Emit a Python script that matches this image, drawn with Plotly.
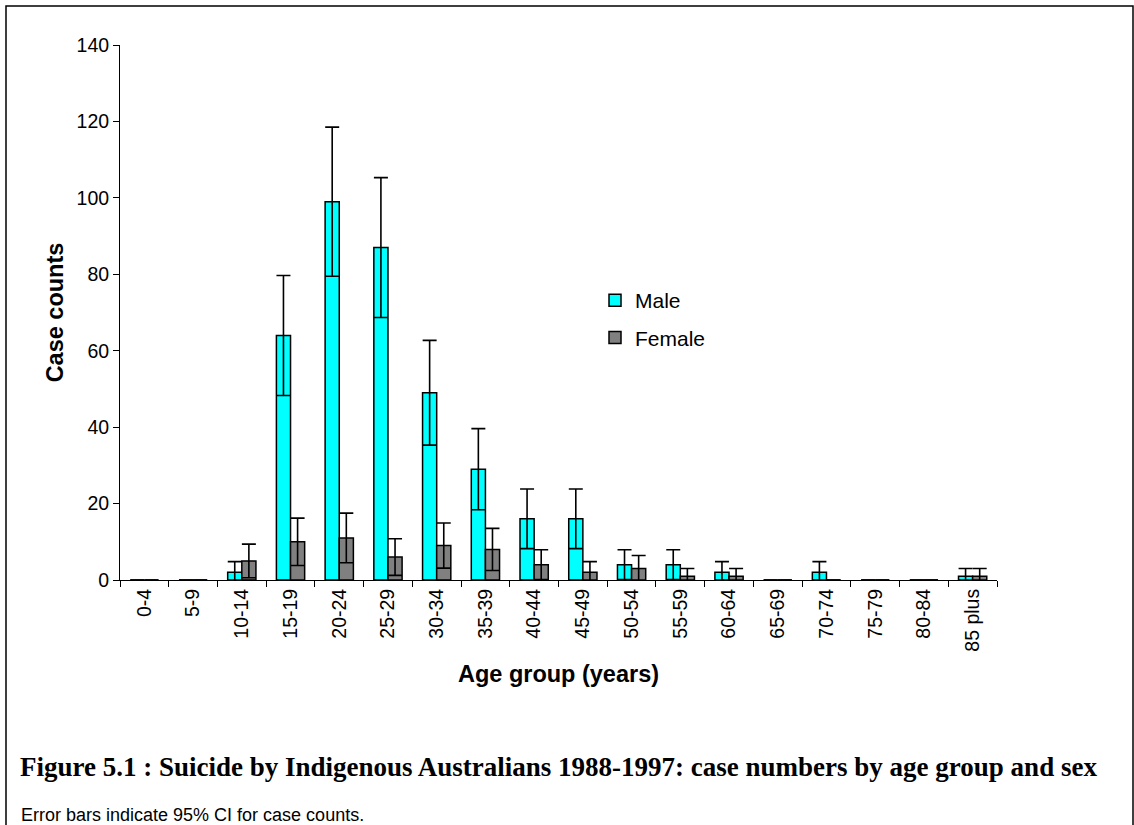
"""Suicide by Indigenous Australians 1988-1997: case counts by age group and sex."""

import plotly.graph_objects as go

# ---------------------------------------------------------------------------
# Data
# ---------------------------------------------------------------------------

age_groups = [
    "0-4", "5-9", "10-14", "15-19", "20-24", "25-29", "30-34", "35-39",
    "40-44", "45-49", "50-54", "55-59", "60-64", "65-69", "70-74", "75-79",
    "80-84", "85 plus",
]
male_counts = [0, 0, 2, 64, 99, 87, 49, 29, 16, 16, 4, 4, 2, 0, 2, 0, 0, 1]
female_counts = [0, 0, 5, 10, 11, 6, 9, 8, 4, 2, 3, 1, 1, 0, 0, 0, 0, 1]
# half-width of the 95% CI
male_ci = [0, 0, 2.8, 15.7, 19.5, 18.3, 13.7, 10.6, 7.8, 7.8, 3.9, 3.9, 2.8, 0, 2.8, 0, 0, 2.0]
female_ci = [0, 0, 4.4, 6.2, 6.5, 4.8, 5.9, 5.5, 3.9, 2.8, 3.4, 2.0, 2.0, 0, 0, 0, 0, 2.0]

# ---------------------------------------------------------------------------
# Style
# ---------------------------------------------------------------------------

MALE_COLOR = "#00FFFF"
FEMALE_COLOR = "#808080"
INK = "#000000"
SANS = "Liberation Sans, Arial, sans-serif"
SERIF = "Liberation Serif, Times New Roman, serif"

W, H = 1134, 825
L, R, T, B = 120, 137, 45, 245
PW, PH = W - L - R, H - T - B


def px_x(x):
    return (x - L) / PW


def px_y(y):
    return (H - B - y) / PH


def _bar(name, y, err, color):
    return go.Bar(
        x=age_groups, y=y, name=name, legendgroup=name,
        marker=dict(color=color, line=dict(color=INK, width=1.5)),
        error_y=dict(type="data", array=err, visible=True,
                     color=INK, thickness=1.6, width=7),
    )


fig = go.Figure()
fig.add_trace(_bar("Male", male_counts, male_ci, MALE_COLOR))
fig.add_trace(_bar("Female", female_counts, female_ci, FEMALE_COLOR))

fig.update_layout(
    width=W, height=H,
    margin=dict(l=L, r=R, t=T, b=B),
    paper_bgcolor="white", plot_bgcolor="white",
    font=dict(family=SANS, color=INK, size=19),
    barmode="group", bargap=0.42, bargroupgap=0,
    showlegend=True,
    legend=dict(
        x=px_x(595), y=px_y(280), xanchor="left", yanchor="top",
        bgcolor="rgba(0,0,0,0)", font=dict(size=21, family=SANS),
        itemwidth=30, tracegroupgap=7,
    ),
    xaxis=dict(
        type="category", showgrid=False, zeroline=False,
        showline=True, linecolor=INK, linewidth=1,
        ticks="outside", tickson="boundaries", ticklen=6, tickcolor=INK,
        tickangle=-90, tickfont=dict(size=19.5),
        title=dict(text="<b>Age group (years)</b>", font=dict(size=23.5), standoff=14),
    ),
    yaxis=dict(
        range=[0, 140], dtick=20, showgrid=False, zeroline=False,
        showline=True, linecolor=INK, linewidth=1,
        ticks="outside", ticklen=6, tickcolor=INK, tickfont=dict(size=19.5),
        title=dict(text="<b>Case counts</b>", font=dict(size=23.5), standoff=6),
    ),
    shapes=[
        dict(type="rect", xref="paper", yref="paper",
             x0=px_x(6), x1=px_x(1133), y0=px_y(900), y1=px_y(6),
             line=dict(color=INK, width=1.5), fillcolor="rgba(0,0,0,0)",
             layer="below"),
    ],
    annotations=[
        dict(text="<b>Figure 5.1 : Suicide by Indigenous Australians 1988-1997: "
                  "case numbers by age group and sex</b>",
             xref="paper", yref="paper", x=px_x(18), y=px_y(767),
             xanchor="left", yanchor="middle", showarrow=False,
             font=dict(family=SERIF, size=27, color=INK)),
        dict(text="Error bars indicate 95% CI for case counts.",
             xref="paper", yref="paper", x=px_x(19), y=px_y(815),
             xanchor="left", yanchor="middle", showarrow=False,
             font=dict(family=SANS, size=18, color=INK)),
    ],
)

# the page's default 8px body margin would push the figure off the window
fig.write_html(
    "out.html",
    config=dict(displayModeBar=False),
    post_script="document.body.style.margin='0';",
)
